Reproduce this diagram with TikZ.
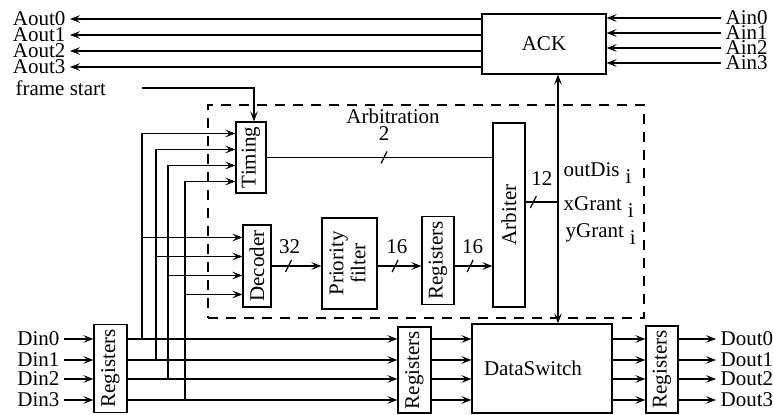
\documentclass[tikz,border=0pt]{standalone}
\usepackage{fontspec}
\setmainfont{Liberation Serif}
\usetikzlibrary{arrows.meta}

\tikzset{
  blk/.style={draw, inner sep=0pt},
  regbox/.style={blk, minimum width=16pt, minimum height=44pt},
  lbl/.style={inner sep=2pt},
  arbbox/.style={draw, dash pattern=on 5pt off 4pt, inner sep=0pt}
}

\begin{document}
\begin{tikzpicture}[x=0.5pt, y=-0.5pt, line width=0.6pt,
    font=\fontsize{10.5}{12}\selectfont,
    >={Stealth[length=5pt, width=3.8pt, inset=2pt]}]
  \useasboundingbox (0,0) rectangle (773,415);

  \node[blk, minimum width=62pt, minimum height=30pt] (ack) at (544,44) {ACK};
  \node[arbbox, minimum width=218pt, minimum height=106.5pt] (arb) at (426,211.5) {};
  \node[lbl] (arbt) at (393,116) {Arbitration};

  \node[blk, minimum width=15pt, minimum height=35.5pt] (timing) at (251,157.5) {\rotatebox{90}{Timing}};
  \node[blk, minimum width=16pt, minimum height=92pt] (arbiter) at (509,215) {\rotatebox{90}{Arbiter}};
  \node[blk, minimum width=14pt, minimum height=41pt] (dec) at (257,266) {\rotatebox{90}{Decoder}};
  \node[blk, minimum width=27.5pt, minimum height=45.5pt] (pf) at (349.5,263.5)
    {\rotatebox{90}{\begin{tabular}{@{}c@{}}Priority\\[-1pt]filter\end{tabular}}};
  \node[regbox] (regA) at (438,260.5) {\rotatebox{90}{Registers}};

  \node[regbox, minimum width=16.5pt] (regin) at (110.5,368.5) {\rotatebox{90}{Registers}};
  \node[regbox, minimum width=16.5pt, minimum height=43pt] (regmid) at (414.5,370) {\rotatebox{90}{Registers}};
  \node[blk, minimum width=70pt, minimum height=44.5pt] (ds) at (542,368.5) {\hspace*{-9pt}DataSwitch};
  \node[regbox, minimum height=43.5pt] (regout) at (662,369.5) {\rotatebox{90}{Registers}};

  % acknowledge lines
  \foreach \i/\y in {0/19, 1/35, 2/51, 3/67}{
    \node[lbl, anchor=east] (aout\i) at (70,\y) {Aout\i};
    \draw[->] (aout\i -| ack.west) -- (aout\i.east);
  }
  \foreach \i/\y in {0/18, 1/33, 2/48, 3/63}{
    \node[lbl, anchor=west] (ain\i) at (721,\y) {Ain\i};
    \draw[->] (ain\i.west) -- (ain\i -| ack.east);
  }

  \node[lbl, anchor=west] (fs) at (11,88) {frame start};
  \draw[->] ([xshift=15.5pt]fs.east) -| ([xshift=1.5pt]timing.north);

  % arbitration path
  \draw (timing.east) -- coordinate[pos=.52] (s2) node[lbl, pos=.52, above=6pt] {2} (timing.east -| arbiter.west);
  \draw (s2) +(-3,6) -- +(3,-6);
  \draw[->] (dec.east) -- coordinate[pos=.34] (s32) node[lbl, pos=.36, above=4pt] {32} (dec.east -| pf.west);
  \draw (s32) +(-3,6) -- +(3,-6);
  \draw[->] (dec.east -| pf.east) -- coordinate[pos=.4] (s16a) node[lbl, pos=.44, above=4pt] {16} (dec.east -| regA.west);
  \draw (s16a) +(-3,6) -- +(3,-6);
  \draw[->] (dec.east -| regA.east) -- coordinate[pos=.41] (s16b) node[lbl, pos=.48, above=4pt] {16} (dec.east -| arbiter.west);
  \draw (s16b) +(-3,6) -- +(3,-6);

  \coordinate (bus) at (558,202);
  \draw (arbiter.east |- bus) -- coordinate[pos=.24] (s12) node[lbl, midway, above=6pt] {12} (bus);
  \draw (s12) +(-3,6) -- +(3,-6);
  \draw[<->] (bus |- ack.south) -- (bus |- ds.north);

  \node[lbl, anchor=base west] (od) at (559,177) {outDis\hspace{3pt}\raisebox{-3.5pt}{i}};
  \node[lbl, anchor=base west] (xg) at (559,211) {xGrant\hspace{3pt}\raisebox{-3.5pt}{i}};
  \node[lbl, anchor=base west] (yg) at (561,238) {yGrant\hspace{3pt}\raisebox{-3.5pt}{i}};

  % data path
  \foreach \i/\y in {0/339, 1/360, 2/379, 3/400}{
    \node[lbl, anchor=east] (din\i) at (64,\y) {Din\i};
    \node[lbl, anchor=west] (dout\i) at (716,\y) {Dout\i};
    \draw[->] (din\i.east) -- (din\i -| regin.west);
    \draw[->] (din\i -| regin.east) -- (din\i -| regmid.west);
    \draw[->] (din\i -| regmid.east) -- (din\i -| ds.west);
    \draw[->] (din\i -| ds.east) -- (din\i -| regout.west);
    \draw[->] (din\i -| regout.east) -- (dout\i.west);
  }

  % taps to timing and decoder
  \foreach \i/\tx/\dy/\ey in {0/142/12pt/14.25pt, 1/156/4pt/4.75pt, 2/168/-4pt/-4.75pt, 3/185/-12pt/-14.25pt}{
    \coordinate (tap\i) at (\tx,0 |- din\i);
    \draw[->] (tap\i) |- ([yshift=\dy]timing.west);
    \coordinate (dd\i) at ([yshift=\ey]dec.west);
    \draw[->] (tap\i |- dd\i) -- (dd\i);
  }
\end{tikzpicture}
\end{document}
